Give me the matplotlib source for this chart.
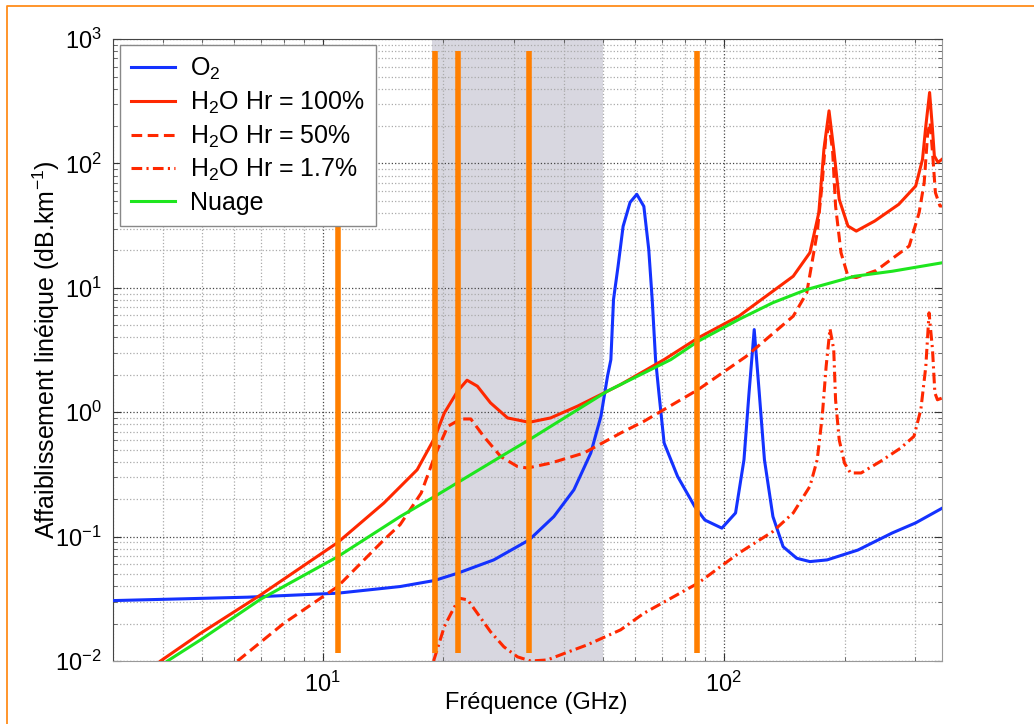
import matplotlib
matplotlib.use("Agg")
import matplotlib.pyplot as plt
from matplotlib.lines import Line2D
from matplotlib.ticker import LogLocator, NullFormatter

plt.rcParams['font.family'] = ['Liberation Sans', 'DejaVu Sans']
plt.rcParams['mathtext.fontset'] = 'custom'
plt.rcParams['mathtext.rm'] = 'Liberation Sans'
plt.rcParams['mathtext.it'] = 'Liberation Sans:italic'
plt.rcParams['mathtext.default'] = 'regular'
plt.rcParams['axes.unicode_minus'] = False

# values (GHz, dB/km)
freq_o2 = [3.0, 6.5, 10.9, 15.6, 19.0, 21.7, 26.7, 32.7, 37.7, 42.3, 46.6, 49.4, 51.3, 52.3,
           53.1, 54.5, 56.1, 58.4, 60.7, 63.2, 65.0, 66.3, 67.6, 68.9, 71.0, 76.7, 84.6,
           89.7, 98.9, 107, 112.3, 115.6, 119.1, 122.6, 126.3, 132.6, 140.6, 152, 164,
           181, 216, 263, 301, 350]
o2 = [0.0306, 0.0326, 0.0351, 0.0397, 0.0444, 0.0508, 0.065, 0.094, 0.145, 0.238, 0.47,
      0.93, 1.95, 2.65, 8.07, 14.9, 31.2, 48.7, 56.5, 45.2, 20.4, 8.07, 2.65, 1.43, 0.566,
      0.305, 0.175, 0.136, 0.117, 0.155, 0.415, 1.43, 4.62, 1.43, 0.415, 0.145, 0.083,
      0.067, 0.063, 0.065, 0.078, 0.107, 0.129, 0.169]

freq_h100 = [3.94, 4.96, 7.0, 10.9, 14.2, 17.2, 19.0, 20.1, 21.7, 22.9, 24.3, 26.2, 28.9,
             32.7, 37.0, 43.2, 50.3, 55.3, 71.0, 86.3, 109, 149, 164, 172.6, 177.7, 183,
             188, 194, 204, 214, 238, 273, 301, 313, 319, 326, 331, 335, 342, 350]
h100 = [0.01, 0.0167, 0.034, 0.0897, 0.186, 0.345, 0.62, 0.986, 1.48, 1.81, 1.62, 1.19,
        0.90, 0.83, 0.90, 1.12, 1.43, 1.67, 2.65, 3.96, 5.92, 12.4, 19.2, 40.3, 130, 265,
        130, 51.5, 31.4, 28.6, 34.5, 46.9, 65.9, 108, 200, 372, 200, 115, 102, 108]

freq_h50 = [6.13, 8.0, 10.9, 14.2, 15.6, 17.6, 19.0, 20.5, 22.1, 23.4, 25.2, 27.8, 30.6,
            32.4, 37.0, 44.8, 55.3, 63.2, 86.3, 113.5, 149, 161, 171, 176, 179.5, 183,
            186.7, 190, 196, 204, 214, 240, 290, 307, 316, 322.5, 327, 332, 337, 346, 350]
h50 = [0.01, 0.0201, 0.0397, 0.094, 0.125, 0.224, 0.44, 0.77, 0.883, 0.883, 0.64, 0.44,
       0.366, 0.356, 0.39, 0.47, 0.68, 0.845, 1.52, 2.8, 5.92, 9.1, 27.8, 70, 157, 200,
       130, 45.5, 19.2, 12.4, 12.1, 13.8, 21.7, 40.3, 70, 177, 213, 115, 58.4, 45.5, 45.5]

freq_h17 = [18.9, 20.1, 20.9, 21.9, 23.0, 24.3, 26.2, 28.3, 30.6, 33.0, 36.3, 40.0, 45.7,
            55.3, 63.2, 86.3, 109, 132.6, 149, 164, 171, 176, 180, 184, 188, 190, 194,
            200, 207, 220, 246, 276, 298, 310, 319, 325, 331.5, 336, 341, 350]
h17 = [0.01, 0.0189, 0.0242, 0.032, 0.031, 0.0242, 0.0172, 0.013, 0.0108, 0.01, 0.0102,
       0.0115, 0.0135, 0.0178, 0.0242, 0.0423, 0.0736, 0.11, 0.155, 0.254, 0.415, 0.927,
       2.34, 4.69, 3.19, 1.26, 0.60, 0.39, 0.325, 0.325, 0.403, 0.515, 0.64, 1.05, 2.34,
       6.3, 3.19, 1.43, 1.26, 1.3]

freq_cloud = [4.1, 4.96, 7.0, 10.9, 15.6, 19.0, 27.8, 32.7, 51.3, 73.8, 86.3, 109, 132.6,
              161, 212, 263, 350]
cloud = [0.01, 0.0148, 0.0314, 0.069, 0.145, 0.21, 0.44, 0.60, 1.48, 2.65, 3.72, 5.57,
         7.6, 9.7, 12.4, 13.6, 15.9]

# radiometer channels (GHz) and the top of each bar
channels = [10.9, 19.0, 21.7, 32.7, 85.8]
channel_tops = [35.5, 800, 800, 800, 800]
band = (18.7, 50.0)

fig = plt.figure(figsize=(10.34, 7.24), dpi=100)
ax = fig.add_axes([0.1093, 0.087, 0.8017, 0.859])

ax.axvspan(band[0], band[1], color='#d8d7e0', zorder=0, lw=0)

ax.plot(freq_o2, o2, color='#1432ff', lw=2.2, label='O$_2$', zorder=3)
ax.plot(freq_h100, h100, color='#ff2800', lw=2.2, label='H$_2$O Hr = 100%', zorder=3)
ax.plot(freq_h50, h50, color='#ff2800', lw=2.2, ls=(0, (3.5, 1.8)),
        label='H$_2$O Hr = 50%', zorder=3)
ax.plot(freq_h17, h17, color='#ff2800', lw=2.2, ls=(0, (3.5, 1.4, 0.7, 1.4)),
        label='H$_2$O Hr = 1.7%', zorder=3)
ax.plot(freq_cloud, cloud, color='#1ee61e', lw=2.2, label='Nuage', zorder=3)

for f, top in zip(channels, channel_tops):
    ax.plot([f, f], [0.0117, top], color='#ff7f00', lw=4, solid_capstyle='butt', zorder=4)

ax.set_xscale('log')
ax.set_yscale('log')
ax.set_xlim(3, 350)
ax.set_ylim(1e-2, 1e3)
ax.xaxis.set_minor_locator(LogLocator(base=10, subs=range(2, 10), numticks=20))
ax.yaxis.set_minor_locator(LogLocator(base=10, subs=range(2, 10), numticks=20))
ax.xaxis.set_minor_formatter(NullFormatter())
ax.yaxis.set_minor_formatter(NullFormatter())

ax.set_axisbelow(True)
ax.grid(True, which='major', ls=':', color='#444444', lw=0.9)
ax.grid(True, which='minor', ls=':', color='#aaaaaa', lw=0.9)

ax.tick_params(which='both', direction='in', top=True, right=True, labelsize=17)
ax.tick_params(which='major', length=6, color='#333333')
ax.tick_params(which='minor', length=3, color='#555555')
ax.tick_params(axis='y', pad=8)
ax.tick_params(axis='x', pad=8)
for side in ['top', 'left']:
    ax.spines[side].set_color('#444444')
for side in ['bottom', 'right']:
    ax.spines[side].set_color('#999999')

ax.set_xlabel('Fréquence (GHz)', fontsize=17)
ax.xaxis.set_label_coords(0.51, -0.05)
ax.set_ylabel('Affaiblissement linéique (dB.km$^{-1}$)', fontsize=18, labelpad=-5)

leg = ax.legend(loc='upper left', bbox_to_anchor=(0.008, 0.991), borderaxespad=0,
                fontsize=18, fancybox=False, edgecolor='#888888', framealpha=1,
                handlelength=1.75, handletextpad=0.6, labelspacing=0.3, borderpad=0.45)
leg.get_frame().set_linewidth(1.0)
leg.set_zorder(5)

# orange frame on the left and top of the picture
fig.add_artist(Line2D([7 / 1034, 7 / 1034, 1.0], [0.0, 1 - 5.5 / 724, 1 - 5.5 / 724],
                      transform=fig.transFigure, color='#ff8c1a', lw=1.3))

fig.savefig('out.png', dpi=100)
